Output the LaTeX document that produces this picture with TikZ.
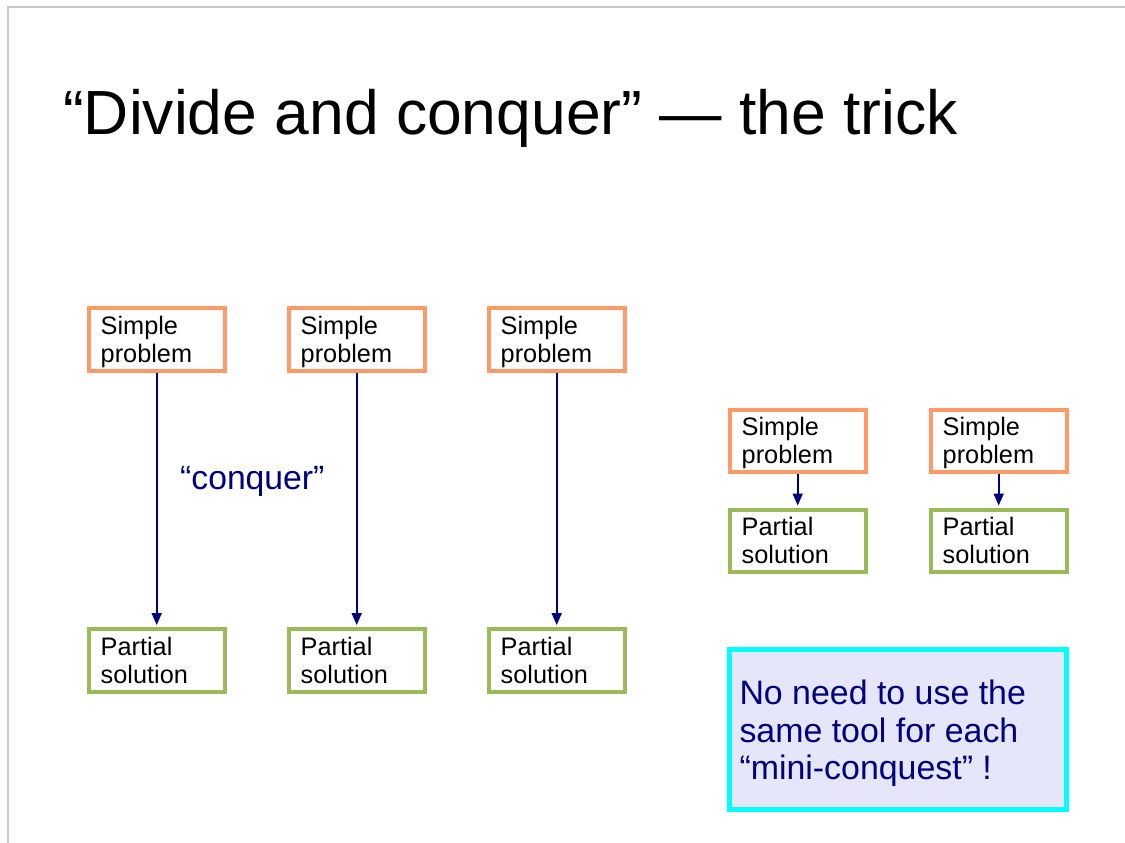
\documentclass[tikz,border=0pt]{standalone}
\usepackage{fontspec}
\setmainfont{Liberation Sans}
\usetikzlibrary{arrows.meta,calc}
\definecolor{probC}{HTML}{FF9966}
\definecolor{solC}{HTML}{9BBB59}
\definecolor{navyC}{HTML}{000080}
\definecolor{frameC}{HTML}{C8C8C8}
\definecolor{noteFill}{HTML}{E6E6FA}
\definecolor{noteEdge}{HTML}{00FFFF}
\tikzset{
  boxbase/.style={line width=4pt, minimum width=136pt, minimum height=63pt,
    inner sep=0pt, fill=white},
  probbox/.style={boxbase, draw=probC},
  solbox/.style={boxbase, draw=solC},
  % anchored on the baseline of the last line
  boxtext/.style={anchor=base west, align=left, inner sep=0pt,
    font=\fontsize{25.3}{28.3}\selectfont},
  arr/.style={draw=navyC, line width=1.8pt, -{Triangle[length=12pt,width=10pt]}, shorten >=2pt},
}
\begin{document}
\begin{tikzpicture}[x=1pt,y=-1pt]
\useasboundingbox (0,0) rectangle (1125,843);
% slide frame
\draw[frameC, line width=1.5pt] (8,843) -- (8,7) -- (1125,7);
% title
\node[anchor=base west, inner sep=0pt, font=\fontsize{62.4}{70}\selectfont] (title) at (63,135)
  {“Divide and conquer” — the trick};
% three long conquer steps
\foreach \i/\x in {1/156.7, 2/356.7, 3/556.7}{
  \node[probbox] (s\i) at (\x,339.5) {};
  \node[boxtext] (st\i) at ($(s\i.north west)+(13.8,56.3)$) {Simple\\problem};
  \node[solbox]  (p\i) at (\x,660.5) {};
  \node[boxtext] (pt\i) at ($(p\i.north west)+(13.8,56.3)$) {Partial\\solution};
  \draw[arr] (s\i) -- (p\i);
}
\node[text=navyC, font=\fontsize{33.7}{38}\selectfont, inner sep=0pt, anchor=base west] (conq) at (180,489) {“conquer”};
% two short conquer steps
\foreach \i/\x in {4/797.7, 5/998.7}{
  \node[probbox, minimum height=62pt] (s\i) at (\x,440.5) {};
  \node[boxtext] (st\i) at ($(s\i.north west)+(13.8,56.3)$) {Simple\\problem};
  \node[solbox, minimum height=62pt]  (p\i) at (\x,540.5) {};
  \node[boxtext] (pt\i) at ($(p\i.north west)+(13.8,56.3)$) {Partial\\solution};
  \draw[arr] (s\i) -- (p\i);
}
% note
\node[draw=noteEdge, fill=noteFill, line width=5pt, minimum width=337pt, minimum height=160pt,
  inner sep=0pt] (note) at (898.3,729.5) {};
\node[anchor=base west, align=left, inner sep=0pt, text=navyC,
  font=\fontsize{33.9}{37.5}\selectfont] (notetext) at ($(note.north west)+(12,132.5)$)
  {No need to use the\\same tool for each\\“mini-conquest” !};
\end{tikzpicture}
\end{document}
